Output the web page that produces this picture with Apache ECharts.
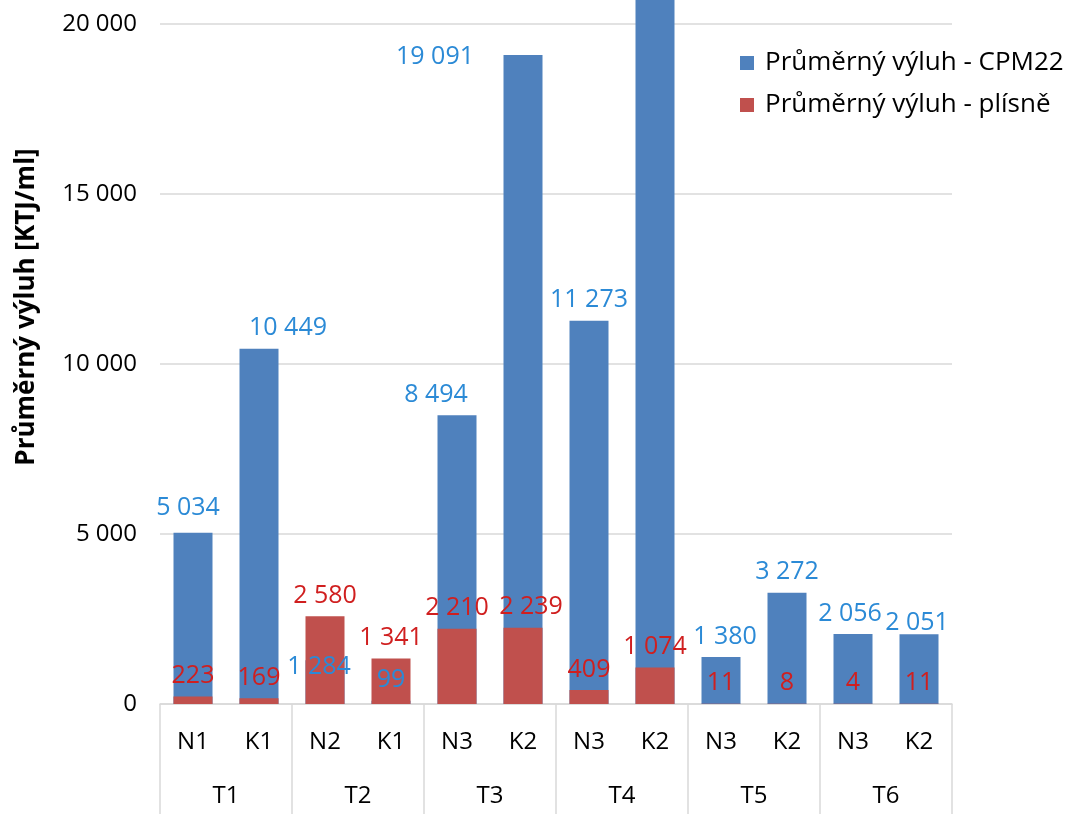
<!DOCTYPE html>
<html lang="cs">
<head>
  <meta charset="UTF-8">
  <title>Průměrný výluh</title>
  <style>
    html, body { margin: 0; padding: 0; background: #fff; }
    #main { width: 1065px; height: 814px; }
  </style>
</head>
<body>
  <div id="main"></div>
  <script src="https://cdn.jsdelivr.net/npm/echarts@6/dist/echarts.min.js"></script>
  <script>
  // data
  const samples = ['N1', 'K1', 'N2', 'K1', 'N3', 'K2', 'N3', 'K2', 'N3', 'K2', 'N3', 'K2'];
  const groups = ['T1', 'T2', 'T3', 'T4', 'T5', 'T6'];
  const cpm22 = [5034, 10449, 1284, 99, 8494, 19091, 11273, 21800, 1380, 3272, 2056, 2051];
  const plisne = [223, 169, 2580, 1341, 2210, 2239, 409, 1074, 11, 8, 4, 11];
  const yTicks = [0, 5000, 10000, 15000, 20000];

  const FONT = 'Open Sans';

  function fmt(v) {
    return String(v).replace(/\B(?=(\d{3})+(?!\d))/g, ' ');
  }

  // manual label nudges (Excel had some labels dragged around)
  const blueNudge = { 0: [-5, -4], 1: [29, 0], 2: [-6, 27], 4: [-21, 0], 5: [-88, 22], 8: [4, 0], 10: [-3, 0], 11: [-2, 9] };
  const redNudge = { 5: [8, 0] };

  function withNudge(vals, nudge) {
    return vals.map((v, i) => {
      if (!nudge[i]) return v;
      return { value: v, label: { offset: nudge[i] } };
    });
  }

  const labelBase = {
    show: true,
    position: 'top',
    distance: 8,
    fontFamily: FONT,
    fontSize: 25,
    formatter: p => fmt(p.value)
  };

  let myChart = echarts.init(document.getElementById('main'));
  let option = {
    animation: false,
    textStyle: { fontFamily: FONT },
    grid: { left: 160, right: 113, top: 24, bottom: 110 },
    legend: {
      orient: 'vertical',
      left: 735,
      top: 45,
      itemWidth: 14,
      itemHeight: 14,
      itemGap: 16,
      icon: 'rect',
      textStyle: { fontFamily: FONT, fontSize: 26, color: '#000', padding: [0, 0, 0, 6] },
      data: ['Průměrný výluh - CPM22', 'Průměrný výluh - plísně']
    },
    graphic: [{
      type: 'text',
      x: 27,
      y: 307,
      rotation: Math.PI / 2,
      style: {
        text: 'Průměrný výluh [KTJ/ml]',
        font: 'bold 26px ' + FONT,
        fill: '#000',
        align: 'center',
        verticalAlign: 'middle'
      }
    }],
    xAxis: [{
      type: 'category',
      data: samples,
      axisLine: { lineStyle: { color: '#d9d9d9', width: 1.5 } },
      axisTick: { show: false },
      axisLabel: { color: '#000', fontFamily: FONT, fontSize: 24, margin: 26, interval: 0 }
    }, {
      type: 'category',
      data: groups,
      position: 'bottom',
      axisLine: { show: false },
      axisTick: { show: true, length: 112, lineStyle: { color: '#d9d9d9', width: 1.5 } },
      axisLabel: { color: '#000', fontFamily: FONT, fontSize: 24, margin: 80, interval: 0 }
    }],
    yAxis: {
      type: 'value',
      min: yTicks[0],
      max: yTicks[yTicks.length - 1],
      interval: 5000,
      axisLine: { show: false },
      axisTick: { show: false },
      splitLine: { lineStyle: { color: '#d9d9d9', width: 1.5 } },
      axisLabel: { color: '#000', fontFamily: FONT, fontSize: 24, margin: 23, formatter: v => fmt(v) }
    },
    series: [{
      name: 'Průměrný výluh - CPM22',
      type: 'bar',
      data: withNudge(cpm22, blueNudge),
      barWidth: 39,
      barGap: '-100%',
      clip: false,
      itemStyle: { color: '#4f81bd' },
      label: Object.assign({}, labelBase, { color: '#2b8ad6' })
    }, {
      name: 'Průměrný výluh - plísně',
      type: 'bar',
      data: withNudge(plisne, redNudge),
      barWidth: 39,
      barGap: '-100%',
      itemStyle: { color: '#c0504d' },
      label: Object.assign({}, labelBase, { color: '#d01f1f' })
    }]
  };

  myChart.setOption(option);
  </script>
</body>
</html>
